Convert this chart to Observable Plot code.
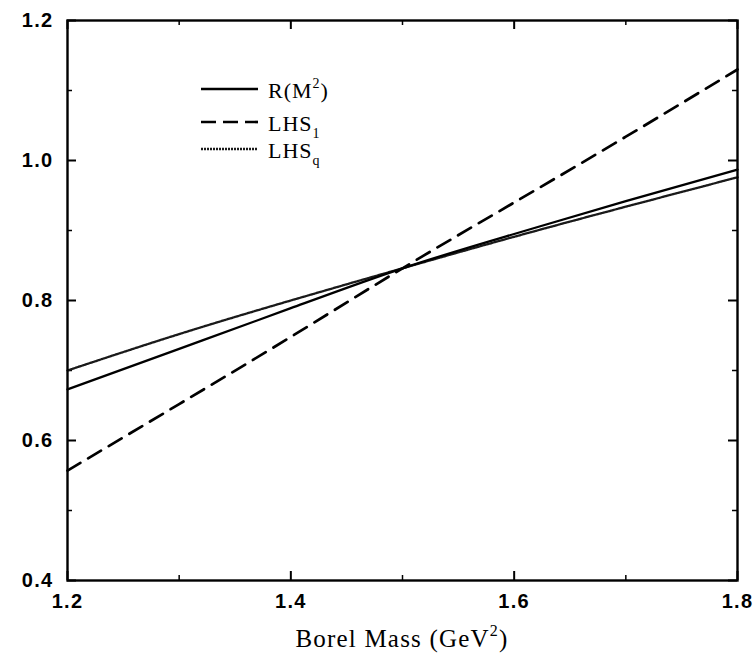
<!DOCTYPE html>
<html><head><meta charset="utf-8">
<script src="https://cdn.jsdelivr.net/npm/d3@7"></script>
<script src="https://cdn.jsdelivr.net/npm/@observablehq/plot@0.6"></script>
<style>body{margin:0;background:#fff}</style>
</head><body><div id="chart"></div>
<script>
// Data
const borelMass = [1.2, 1.3, 1.4, 1.5, 1.6, 1.7, 1.8];
const rM2  = [0.673, 0.731, 0.789, 0.846, 0.895, 0.942, 0.987];
const lhs1 = [0.557, 0.652, 0.748, 0.846, 0.940, 1.034, 1.130];
const lhsq = [0.700, 0.752, 0.800, 0.846, 0.891, 0.934, 0.976];
const xMajorTicks = [1.2, 1.4, 1.6, 1.8];
const xMinorTicks = [1.3, 1.5, 1.7];
const yMajorTicks = [0.4, 0.6, 0.8, 1.0, 1.2];
const yMinorTicks = [0.5, 0.7, 0.9, 1.1];

const rows = borelMass.flatMap((m, i) => [
  {m, v: rM2[i], s: "R"},
  {m, v: lhs1[i], s: "LHS1"},
  {m, v: lhsq[i], s: "LHSq"}
]);

const W = 756, H = 660, mL = 67, mR = 19, mT = 20, mB = 80;
const fw = W - mL - mR, fh = H - mT - mB;
const maj = 9, minr = 5;

const chart = Plot.plot({
  width: W, height: H,
  marginLeft: mL, marginRight: mR, marginTop: mT, marginBottom: mB,
  x: {domain: [1.2, 1.8]},
  y: {domain: [0.4, 1.2]},
  style: {fontFamily: "Liberation Sans, Arial, sans-serif", fontSize: "20px", color: "#000", background: "#fff", overflow: "visible", letterSpacing: "1.3px"},
  marks: [
    Plot.axisX(xMajorTicks, {tickSize: 0, tickPadding: 13, tickFormat: d => d.toFixed(1), label: null, fontSize: 20, fontWeight: "bold"}),
    Plot.axisY(yMajorTicks, {tickSize: 0, tickPadding: 14, tickFormat: d => d.toFixed(1), label: null, fontSize: 20, fontWeight: "bold"}),
    // inward ticks: bottom, top
    Plot.tickX(xMajorTicks, {x: d => d, insetTop: fh - maj, stroke: "#000", strokeWidth: 2}),
    Plot.tickX(xMinorTicks, {x: d => d, insetTop: fh - minr, stroke: "#000", strokeWidth: 1.5}),
    Plot.tickX(xMajorTicks, {x: d => d, insetBottom: fh - maj, stroke: "#000", strokeWidth: 2}),
    Plot.tickX(xMinorTicks, {x: d => d, insetBottom: fh - minr, stroke: "#000", strokeWidth: 1.5}),
    // inward ticks: left, right
    Plot.tickY(yMajorTicks, {y: d => d, insetRight: fw - maj, stroke: "#000", strokeWidth: 2}),
    Plot.tickY(yMinorTicks, {y: d => d, insetRight: fw - minr, stroke: "#000", strokeWidth: 1.5}),
    Plot.tickY(yMajorTicks, {y: d => d, insetLeft: fw - maj, stroke: "#000", strokeWidth: 2}),
    Plot.tickY(yMinorTicks, {y: d => d, insetLeft: fw - minr, stroke: "#000", strokeWidth: 1.5}),
    Plot.line(rows.filter(d => d.s === "LHSq"), {x: "m", y: "v", curve: "natural", stroke: "#1a1a1a", strokeWidth: 2.3, strokeDasharray: "2,1"}),
    Plot.line(rows.filter(d => d.s === "R"), {x: "m", y: "v", curve: "natural", stroke: "#000", strokeWidth: 2.3}),
    Plot.line(rows.filter(d => d.s === "LHS1"), {x: "m", y: "v", curve: "natural", stroke: "#000", strokeWidth: 2.7, strokeDasharray: "15,9"}),
    Plot.frame({stroke: "#000", strokeWidth: 2.4})
  ]
});
document.getElementById("chart").appendChild(chart);

const svg = d3.select(chart);
const serif = "Liberation Serif, Times New Roman, serif";

// x-axis title with superscript
const title = svg.append("text")
  .attr("x", mL + fw / 2).attr("y", 647)
  .attr("text-anchor", "middle")
  .attr("font-family", serif).attr("font-size", 25).attr("letter-spacing", "1.2px").attr("fill", "#000");
title.append("tspan").text("Borel Mass (GeV");
title.append("tspan").attr("dy", -11).attr("font-size", 16).text("2");
title.append("tspan").attr("dy", 11).text(")");

// legend
const legend = [
  {y: 89, dash: null, w: 2.3, stroke: "#000", base: "R(M", sup: "2", sub: null, tail: ")"},
  {y: 122, dash: "15,7", w: 2.7, stroke: "#000", base: "LHS", sup: null, sub: "1", tail: ""},
  {y: 149, dash: "2,1", w: 2.3, stroke: "#1a1a1a", base: "LHS", sup: null, sub: "q", tail: ""}
];
legend.forEach(d => {
  svg.append("line").attr("x1", 201).attr("x2", 258).attr("y1", d.y).attr("y2", d.y)
    .attr("stroke", d.stroke).attr("stroke-width", d.w)
    .attr("stroke-dasharray", d.dash);
  const t = svg.append("text").attr("x", 268).attr("y", d.y + 9)
    .attr("text-anchor", "start")
    .attr("font-family", serif).attr("font-size", 22).attr("letter-spacing", "1px").attr("fill", "#000");
  t.append("tspan").text(d.base);
  if (d.sup) { t.append("tspan").attr("dy", -10).attr("font-size", 14).text(d.sup); t.append("tspan").attr("dy", 10).text(d.tail); }
  if (d.sub) { t.append("tspan").attr("dy", 7).attr("font-size", 14).text(d.sub); }
});
</script>
</body></html>
